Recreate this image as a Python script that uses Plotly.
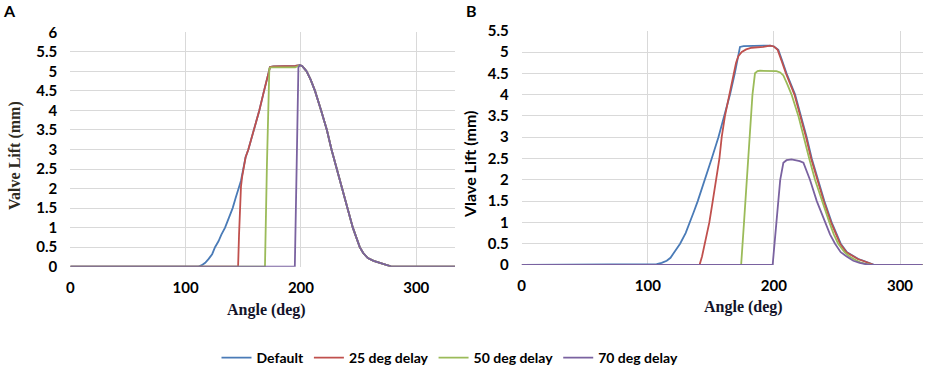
import plotly.graph_objects as go

W, H = 938, 378

series_names = ["Default", "25 deg delay", "50 deg delay", "70 deg delay"]
series_colors = ["#4A7BB7", "#C0504D", "#9BBB59", "#7A62A0"]

# Panel A (angle in deg, lift in mm)
a_default_x = [0, 110, 111, 114, 117, 120, 123, 125.5, 128.5, 131, 134.2, 137.5, 140.8, 143.3, 145.7, 148, 150, 152, 154.4, 159.3, 163.9, 168, 171.8, 173.2, 176, 185, 195, 199, 201, 203, 205, 208.5, 212.2, 217.5, 222.5, 226.5, 231, 235.5, 240, 245, 248, 251, 254, 258, 263, 268, 273, 278, 281, 334]
a_default_y = [0, 0, 0, 0.04, 0.1, 0.2, 0.32, 0.5, 0.65, 0.82, 1.0, 1.25, 1.5, 1.75, 2.0, 2.2, 2.5, 2.8, 3.0, 3.5, 4.0, 4.5, 5.0, 5.11, 5.13, 5.13, 5.14, 5.16, 5.14, 5.07, 5.0, 4.78, 4.5, 4.0, 3.5, 3.0, 2.5, 2.0, 1.5, 1.0, 0.75, 0.5, 0.35, 0.22, 0.15, 0.1, 0.05, 0.01, 0, 0]
a_d25_x = [0, 145.5, 146.3, 147.2, 148, 149, 150, 152, 154.4, 159.3, 163.9, 168, 171.8, 173.2, 176, 185, 195, 199, 201, 203, 205, 208.5, 212.2, 217.5, 222.5, 226.5, 231, 235.5, 240, 245, 248, 251, 254, 258, 263, 268, 273, 278, 281, 334]
a_d25_y = [0, 0, 0.8, 1.6, 2.05, 2.3, 2.5, 2.8, 3.0, 3.5, 4.0, 4.5, 5.0, 5.11, 5.13, 5.13, 5.14, 5.16, 5.14, 5.07, 5.0, 4.78, 4.5, 4.0, 3.5, 3.0, 2.5, 2.0, 1.5, 1.0, 0.75, 0.5, 0.35, 0.22, 0.15, 0.1, 0.05, 0.01, 0, 0]
a_d50_x = [0, 168.8, 170.5, 172.6, 174, 185, 195, 199, 201, 203, 205, 208.5, 212.2, 217.5, 222.5, 226.5, 231, 235.5, 240, 245, 248, 251, 254, 258, 263, 268, 273, 278, 281, 334]
a_d50_y = [0, 0, 2.6, 5.08, 5.1, 5.1, 5.1, 5.16, 5.14, 5.07, 5.0, 4.78, 4.5, 4.0, 3.5, 3.0, 2.5, 2.0, 1.5, 1.0, 0.75, 0.5, 0.35, 0.22, 0.15, 0.1, 0.05, 0.01, 0, 0]
a_d70_x = [0, 194.7, 196.3, 197.8, 199, 201, 203, 205, 208.5, 212.2, 217.5, 222.5, 226.5, 231, 235.5, 240, 245, 248, 251, 254, 258, 263, 268, 273, 278, 281, 334]
a_d70_y = [0, 0, 2.6, 5.1, 5.16, 5.14, 5.07, 5.0, 4.78, 4.5, 4.0, 3.5, 3.0, 2.5, 2.0, 1.5, 1.0, 0.75, 0.5, 0.35, 0.22, 0.15, 0.1, 0.05, 0.01, 0, 0]

# Panel B
b_default_x = [0, 100, 107, 111, 115, 118, 120, 123, 125.6, 130, 133.5, 136.5, 139.6, 145.4, 150.7, 156, 160.5, 165.2, 169, 173.1, 176, 185, 190, 197, 200, 203.5, 206.5, 210, 216.8, 221.5, 226, 230, 235, 240, 245.8, 249.5, 253, 258, 263, 267, 271, 275, 280, 318]
b_default_y = [0, 0.01, 0.02, 0.05, 0.1, 0.17, 0.25, 0.37, 0.5, 0.75, 1.0, 1.25, 1.5, 2.0, 2.5, 3.0, 3.5, 4.0, 4.5, 5.12, 5.14, 5.14, 5.14, 5.15, 5.13, 5.05, 4.8, 4.5, 4.0, 3.5, 3.0, 2.5, 2.0, 1.5, 1.0, 0.72, 0.5, 0.3, 0.2, 0.14, 0.1, 0.05, 0, 0]
b_d25_x = [0, 141, 143, 145.4, 148.8, 151.5, 154, 156.8, 158.6, 161.2, 164.7, 167.9, 170, 171.8, 174.5, 178, 182.4, 191.6, 197, 200, 203, 206, 209.5, 216.3, 221, 225.5, 229.5, 234.5, 239.5, 245.3, 249, 252.5, 257.5, 262.5, 266.5, 270.5, 275, 279.5, 318]
b_d25_y = [0, 0, 0.2, 0.5, 1.0, 1.5, 2.0, 2.5, 3.0, 3.5, 4.0, 4.5, 4.75, 4.9, 5.0, 5.06, 5.1, 5.12, 5.15, 5.13, 5.05, 4.8, 4.5, 4.0, 3.5, 3.0, 2.5, 2.0, 1.5, 1.0, 0.72, 0.5, 0.3, 0.2, 0.14, 0.1, 0.05, 0, 0]
b_d50_x = [0, 174, 176.3, 178.4, 180.5, 183, 185, 187, 189, 195, 202, 205, 207.5, 210.5, 214, 219.4, 224, 228, 232.6, 238, 244, 247.5, 251, 256, 260, 264, 268, 272, 277.5, 318]
b_d50_y = [0, 0, 1.0, 2.0, 3.0, 4.0, 4.5, 4.55, 4.56, 4.56, 4.55, 4.52, 4.45, 4.25, 4.0, 3.5, 3.0, 2.5, 2.0, 1.5, 1.0, 0.72, 0.5, 0.3, 0.2, 0.13, 0.07, 0.03, 0, 0]
b_d70_x = [0, 199, 202, 205, 207.5, 210, 214, 218, 220.5, 223.4, 226, 228.6, 234, 240.5, 244.5, 248.5, 253, 257.7, 263, 268, 272, 276, 318]
b_d70_y = [0, 0, 1.0, 2.0, 2.4, 2.46, 2.48, 2.46, 2.44, 2.4, 2.2, 2.0, 1.5, 1.0, 0.72, 0.5, 0.3, 0.2, 0.1, 0.05, 0.02, 0, 0]

a_xs = [a_default_x, a_d25_x, a_d50_x, a_d70_x]
a_ys = [a_default_y, a_d25_y, a_d50_y, a_d70_y]
b_xs = [b_default_x, b_d25_x, b_d50_x, b_d70_x]
b_ys = [b_default_y, b_d25_y, b_d50_y, b_d70_y]

x_ticks = [0, 100, 200, 300]
a_y_ticks = [0, 0.5, 1, 1.5, 2, 2.5, 3, 3.5, 4, 4.5, 5, 5.5, 6]
a_y_labels = ["0", "0.5", "1", "1.5", "2", "2.5", "3", "3.5", "4", "4.5", "5", "5.5", "6"]
b_y_ticks = [0, 0.5, 1, 1.5, 2, 2.5, 3, 3.5, 4, 4.5, 5, 5.5]
b_y_labels = ["0", "0.5", "1", "1.5", "2", "2.5", "3", "3.5", "4", "4.5", "5", "5.5"]

fig = go.Figure()
for i in range(4):
    fig.add_trace(go.Scatter(x=a_xs[i], y=a_ys[i], mode="lines", name=series_names[i],
                             line=dict(color=series_colors[i], width=1.8),
                             xaxis="x", yaxis="y", legendgroup=series_names[i]))
for i in range(4):
    fig.add_trace(go.Scatter(x=b_xs[i], y=b_ys[i], mode="lines", name=series_names[i],
                             line=dict(color=series_colors[i], width=1.8),
                             xaxis="x2", yaxis="y2", legendgroup=series_names[i], showlegend=False))

tickfont = dict(family="Lato", size=15, color="#000000", weight="bold")
grid = "#d9d9d9"

def px_x(p):
    return p / W

def px_y(p):
    return (H - p) / H

common_x = dict(showgrid=True, gridcolor=grid, gridwidth=1, zeroline=False, showline=False,
                tickvals=x_ticks, ticktext=[str(t) for t in x_ticks], tickfont=tickfont,
                ticks="", ticklabelstandoff=10, fixedrange=True, automargin=False)
common_y = dict(showgrid=True, gridcolor=grid, gridwidth=1, zeroline=False, showline=False,
                tickfont=tickfont, ticks="", ticklabelstandoff=12, fixedrange=True, automargin=False)

fig.update_layout(
    template="none",
    width=W, height=H,
    margin=dict(l=0, r=0, t=0, b=0, pad=0),
    paper_bgcolor="white", plot_bgcolor="white",
    xaxis=dict(domain=[px_x(70.3), px_x(455)], range=[0, 333.6], anchor="y", **common_x),
    yaxis=dict(domain=[px_y(266.7), px_y(32.3)], range=[0, 6], anchor="x",
               tickvals=a_y_ticks, ticktext=a_y_labels, **common_y),
    xaxis2=dict(domain=[px_x(521.7), px_x(922.7)], range=[0, 318], anchor="y2", **common_x),
    yaxis2=dict(domain=[px_y(265), px_y(30.7)], range=[0, 5.5], anchor="x2",
                tickvals=b_y_ticks, ticktext=b_y_labels, **common_y),
    legend=dict(orientation="h", x=px_x(450), xanchor="center", y=px_y(358), yanchor="middle",
                font=dict(family="Lato", size=14, color="#000000", weight="bold"),
                itemwidth=30, tracegroupgap=0, bgcolor="rgba(0,0,0,0)"),
    showlegend=True,
)

serif_title = dict(family="Liberation Serif", size=16, color="#2e2a1e", weight="bold")
ann = [
    dict(text="A", x=px_x(9), y=px_y(11), font=dict(family="Lato", size=16, color="#000", weight="bold")),
    dict(text="B", x=px_x(471), y=px_y(11), font=dict(family="Lato", size=16, color="#000", weight="bold")),
    dict(text="Valve Lift (mm)", x=px_x(15), y=px_y(156), textangle=-90, font=serif_title),
    dict(text="Angle (deg)", x=px_x(266), y=px_y(310), font=dict(family="Liberation Serif", size=16, color="#14142a", weight="bold")),
    dict(text="Vlave Lift (mm)", x=px_x(469), y=px_y(165), textangle=-90, font=dict(family="Lato", size=16, color="#000", weight="bold")),
    dict(text="Angle (deg)", x=px_x(743), y=px_y(307), font=dict(family="Liberation Serif", size=16, color="#14142a", weight="bold")),
]
for a in ann:
    a.update(xref="paper", yref="paper", showarrow=False, xanchor="center", yanchor="middle")
fig.update_layout(annotations=ann)

fig.write_html(
    "out.html",
    config={"displayModeBar": False},
    post_script="document.documentElement.style.margin='0';document.body.style.margin='0';"
                "document.body.style.overflow='hidden';document.documentElement.style.overflow='hidden';",
)
